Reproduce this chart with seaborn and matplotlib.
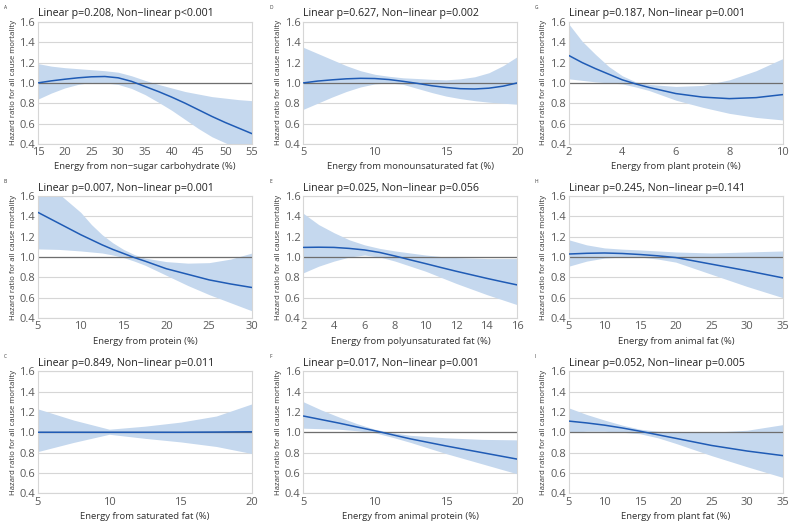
import numpy as np
import pandas as pd
import matplotlib
matplotlib.use("Agg")
import matplotlib.pyplot as plt
import seaborn as sns

# Read-off values for each panel: x, hazard ratio, lower and upper CI
a_x = [15, 17.5, 20, 22.5, 25, 27.5, 30, 32.5, 35, 37.5, 40, 42.5, 45, 47.5, 50, 52.5, 55]
a_hr = [1.0, 1.02, 1.036, 1.05, 1.06, 1.063, 1.05, 1.015, 0.965, 0.915, 0.86, 0.80, 0.735, 0.67, 0.61, 0.555, 0.50]
a_lo = [0.84, 0.90, 0.95, 0.985, 1.005, 1.0, 0.985, 0.945, 0.885, 0.81, 0.73, 0.64, 0.55, 0.47, 0.41, 0.35, 0.30]
a_hi = [1.19, 1.165, 1.15, 1.14, 1.13, 1.12, 1.105, 1.07, 1.025, 0.985, 0.95, 0.915, 0.89, 0.865, 0.85, 0.835, 0.825]

d_x = [5, 6, 7, 8, 9, 10, 11, 12, 13, 14, 15, 16, 17, 18, 19, 20]
d_hr = [1.0, 1.018, 1.03, 1.04, 1.045, 1.043, 1.033, 1.015, 0.995, 0.972, 0.955, 0.943, 0.94, 0.948, 0.968, 1.0]
d_lo = [0.74, 0.80, 0.86, 0.915, 0.96, 0.99, 1.0, 0.985, 0.945, 0.905, 0.87, 0.845, 0.825, 0.81, 0.80, 0.79]
d_hi = [1.35, 1.29, 1.23, 1.17, 1.12, 1.085, 1.065, 1.05, 1.043, 1.035, 1.03, 1.04, 1.06, 1.1, 1.17, 1.26]

g_x = [2, 2.5, 3, 3.5, 4, 4.5, 5, 6, 7, 8, 9, 10]
g_hr = [1.27, 1.2, 1.14, 1.085, 1.03, 0.99, 0.955, 0.895, 0.86, 0.845, 0.855, 0.885]
g_lo = [1.04, 1.025, 1.01, 1.0, 0.99, 0.96, 0.925, 0.83, 0.76, 0.70, 0.66, 0.635]
g_hi = [1.58, 1.41, 1.28, 1.16, 1.07, 1.01, 0.985, 0.965, 0.975, 1.03, 1.12, 1.24]

b_x = [5, 7.5, 10, 11.25, 12.5, 13.75, 15, 16.25, 17.5, 20, 22.5, 25, 27.5, 30]
b_hr = [1.44, 1.33, 1.22, 1.17, 1.12, 1.075, 1.035, 0.995, 0.96, 0.885, 0.83, 0.775, 0.735, 0.70]
b_lo = [1.08, 1.075, 1.06, 1.05, 1.04, 1.02, 0.995, 0.96, 0.92, 0.82, 0.72, 0.63, 0.55, 0.47]
b_hi = [1.85, 1.62, 1.44, 1.32, 1.22, 1.14, 1.075, 1.025, 0.99, 0.955, 0.94, 0.945, 0.98, 1.04]

e_x = [2, 3, 4, 5, 6, 7, 8, 9, 10, 11, 12, 13, 14, 15, 16]
e_hr = [1.095, 1.097, 1.095, 1.085, 1.07, 1.045, 1.01, 0.972, 0.935, 0.897, 0.86, 0.825, 0.79, 0.757, 0.725]
e_lo = [0.845, 0.91, 0.96, 1.0, 1.02, 1.0, 0.96, 0.91, 0.86, 0.80, 0.74, 0.685, 0.63, 0.58, 0.53]
e_hi = [1.43, 1.32, 1.24, 1.17, 1.12, 1.085, 1.06, 1.04, 1.02, 1.005, 0.995, 0.99, 0.985, 0.985, 0.985]

h_x = [5, 7.5, 10, 12.5, 15, 17.5, 20, 25, 30, 35]
h_hr = [1.03, 1.037, 1.04, 1.035, 1.025, 1.012, 0.995, 0.93, 0.865, 0.795]
h_lo = [0.91, 0.96, 0.99, 1.0, 1.0, 0.98, 0.95, 0.83, 0.71, 0.60]
h_hi = [1.17, 1.12, 1.09, 1.078, 1.07, 1.06, 1.05, 1.04, 1.05, 1.06]

c_x = [5, 7.5, 10, 12.5, 15, 17.5, 20]
c_hr = [1.0, 1.0, 1.0, 1.0, 1.0, 1.002, 1.005]
c_lo = [0.81, 0.90, 0.98, 0.94, 0.905, 0.86, 0.79]
c_hi = [1.23, 1.12, 1.03, 1.06, 1.10, 1.16, 1.28]

f_x = [5, 6.25, 7.5, 8.75, 10, 11.25, 12.5, 15, 17.5, 20]
f_hr = [1.16, 1.125, 1.09, 1.052, 1.015, 0.975, 0.935, 0.865, 0.80, 0.735]
f_lo = [1.04, 1.035, 1.03, 1.015, 0.995, 0.95, 0.90, 0.79, 0.69, 0.59]
f_hi = [1.30, 1.22, 1.15, 1.085, 1.03, 0.995, 0.97, 0.945, 0.93, 0.925]

i_x = [5, 7.5, 10, 12.5, 15, 17.5, 20, 25, 30, 35]
i_hr = [1.11, 1.092, 1.07, 1.042, 1.01, 0.975, 0.94, 0.87, 0.815, 0.77]
i_lo = [1.0, 1.01, 1.01, 1.0, 0.985, 0.945, 0.89, 0.77, 0.66, 0.555]
i_hi = [1.24, 1.175, 1.12, 1.07, 1.03, 1.01, 1.0, 1.0, 1.02, 1.075]

panels = [
    ("A", "Linear p=0.208, Non\u2212linear p<0.001", "Energy from non\u2212sugar carbohydrate (%)",
     a_x, a_hr, a_lo, a_hi, [15, 20, 25, 30, 35, 40, 45, 50, 55]),
    ("D", "Linear p=0.627, Non\u2212linear p=0.002", "Energy from monounsaturated fat (%)",
     d_x, d_hr, d_lo, d_hi, [5, 10, 15, 20]),
    ("G", "Linear p=0.187, Non\u2212linear p=0.001", "Energy from plant protein (%)",
     g_x, g_hr, g_lo, g_hi, [2, 4, 6, 8, 10]),
    ("B", "Linear p=0.007, Non\u2212linear p=0.001", "Energy from protein (%)",
     b_x, b_hr, b_lo, b_hi, [5, 10, 15, 20, 25, 30]),
    ("E", "Linear p=0.025, Non\u2212linear p=0.056", "Energy from polyunsaturated fat (%)",
     e_x, e_hr, e_lo, e_hi, [2, 4, 6, 8, 10, 12, 14, 16]),
    ("H", "Linear p=0.245, Non\u2212linear p=0.141", "Energy from animal fat (%)",
     h_x, h_hr, h_lo, h_hi, [5, 10, 15, 20, 25, 30, 35]),
    ("C", "Linear p=0.849, Non\u2212linear p=0.011", "Energy from saturated fat (%)",
     c_x, c_hr, c_lo, c_hi, [5, 10, 15, 20]),
    ("F", "Linear p=0.017, Non\u2212linear p=0.001", "Energy from animal protein (%)",
     f_x, f_hr, f_lo, f_hi, [5, 10, 15, 20]),
    ("I", "Linear p=0.052, Non\u2212linear p=0.005", "Energy from plant fat (%)",
     i_x, i_hr, i_lo, i_hi, [5, 10, 15, 20, 25, 30, 35]),
]
y_ticks = [0.4, 0.6, 0.8, 1.0, 1.2, 1.4, 1.6]

sns.set_theme(style="white")
plt.rcParams["font.family"] = ["Open Sans", "DejaVu Sans"]

fig = plt.figure(figsize=(7.9, 5.23), dpi=100)

col_left = [0.048, 0.384, 0.720]
row_bottom = [0.725, 0.392, 0.057]
w, h = 0.271, 0.233

line_col = "#1f5bb5"
band_col = "#c5d8ee"
grid_col = "#d6d6d6"

for k, (letter, title, xlabel, xs, hr, lo, hi, xt) in enumerate(panels):
    r, c = divmod(k, 3)
    ax = fig.add_axes([col_left[c], row_bottom[r], w, h])
    df = pd.DataFrame({"x": xs, "hr": hr, "lo": lo, "hi": hi})
    for yv in y_ticks:
        ax.axhline(yv, color=grid_col, lw=0.8, zorder=0)
    ax.fill_between(df["x"], df["lo"], df["hi"], color=band_col, lw=0, zorder=1)
    ax.axhline(1.0, color="#6e6e6e", lw=0.9, zorder=2)
    sns.lineplot(data=df, x="x", y="hr", ax=ax, color=line_col, lw=1.1, zorder=3)
    ax.set_xlim(xt[0], xt[-1])
    ax.set_ylim(0.4, 1.6)
    ax.set_xticks(xt)
    ax.set_yticks(y_ticks)
    ax.set_yticklabels([f"{v:.1f}" for v in y_ticks])
    ax.tick_params(axis="x", length=0, labelsize=8, labelcolor="#5a5a5a", pad=2.5)
    ax.tick_params(axis="y", length=0, labelsize=8, labelcolor="#5a5a5a", pad=2)
    for s in ax.spines.values():
        s.set_color(grid_col)
        s.set_linewidth(0.8)
    ax.set_xlabel(xlabel, fontsize=6.8, color="#333333", labelpad=3)
    ax.set_ylabel("Hazard ratio for all cause mortality", fontsize=5.6,
                  color="#333333", labelpad=2)
    ax.set_title(title, loc="left", fontsize=7.7, color="#222222", pad=4)
    fig.text(col_left[c] - 0.043, row_bottom[r] + h + 0.028, letter,
             fontsize=3.5, color="#333333", va="center")

fig.savefig("out.png", dpi=100)
